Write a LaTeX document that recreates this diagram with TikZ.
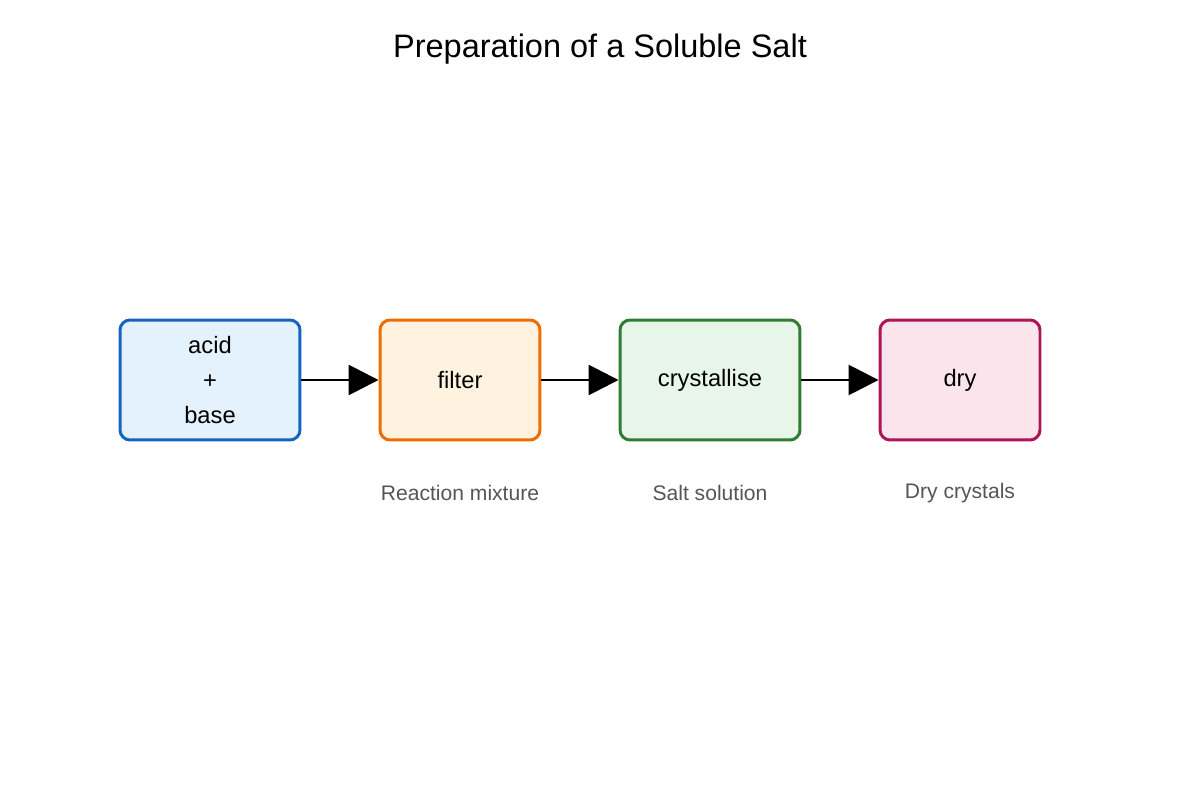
\documentclass[tikz,border=0pt]{standalone}
\usepackage{fontspec}
\setmainfont{Liberation Sans}
\usetikzlibrary{arrows.meta}
\definecolor{blueline}{HTML}{1565C0}\definecolor{bluefill}{HTML}{E3F2FD}
\definecolor{orangeline}{HTML}{EF6C00}\definecolor{orangefill}{HTML}{FFF3E0}
\definecolor{greenline}{HTML}{2E7D32}\definecolor{greenfill}{HTML}{E8F5E9}
\definecolor{pinkline}{HTML}{AD1457}\definecolor{pinkfill}{HTML}{FCE4EC}
\definecolor{labelgray}{HTML}{555555}
\tikzset{
  stage/.style={rectangle, rounded corners=0.2cm, line width=1.7pt, minimum height=2.4cm, align=center, font=\fontsize{13.5}{20}\selectfont},
  note/.style={text=labelgray, font=\fontsize{12}{14}\selectfont},
  flow/.style={line width=1.6pt, -{Triangle[length=0.6cm,width=0.6cm]}}
}
\begin{document}
\begin{tikzpicture}[x=0.02cm,y=-0.02cm]
\useasboundingbox (0,0) rectangle (1200,800);
\node[font=\fontsize{18.5}{22}\selectfont] (title) at (600,49) {Preparation of a Soluble Salt};
\node[stage, draw=blueline, fill=bluefill, minimum width=3.6cm] (mix) at (210,380) {acid\\+\\base};
\node[stage, draw=orangeline, fill=orangefill, minimum width=3.2cm] (filter) at (460,380) {filter};
\node[stage, draw=greenline, fill=greenfill, minimum width=3.6cm] (cryst) at (710,380) {crystallise};
\node[stage, draw=pinkline, fill=pinkfill, minimum width=3.2cm] (dry) at (960,380) {dry};
\draw[flow] (mix) -- (filter);
\draw[flow] (filter) -- (cryst);
\draw[flow] (cryst) -- (dry);
\node[note] (l1) at (460,493) {Reaction mixture};
\node[note] (l2) at (710,493) {Salt solution};
\node[note] (l3) at (960,493) {Dry crystals};
\end{tikzpicture}
\end{document}
